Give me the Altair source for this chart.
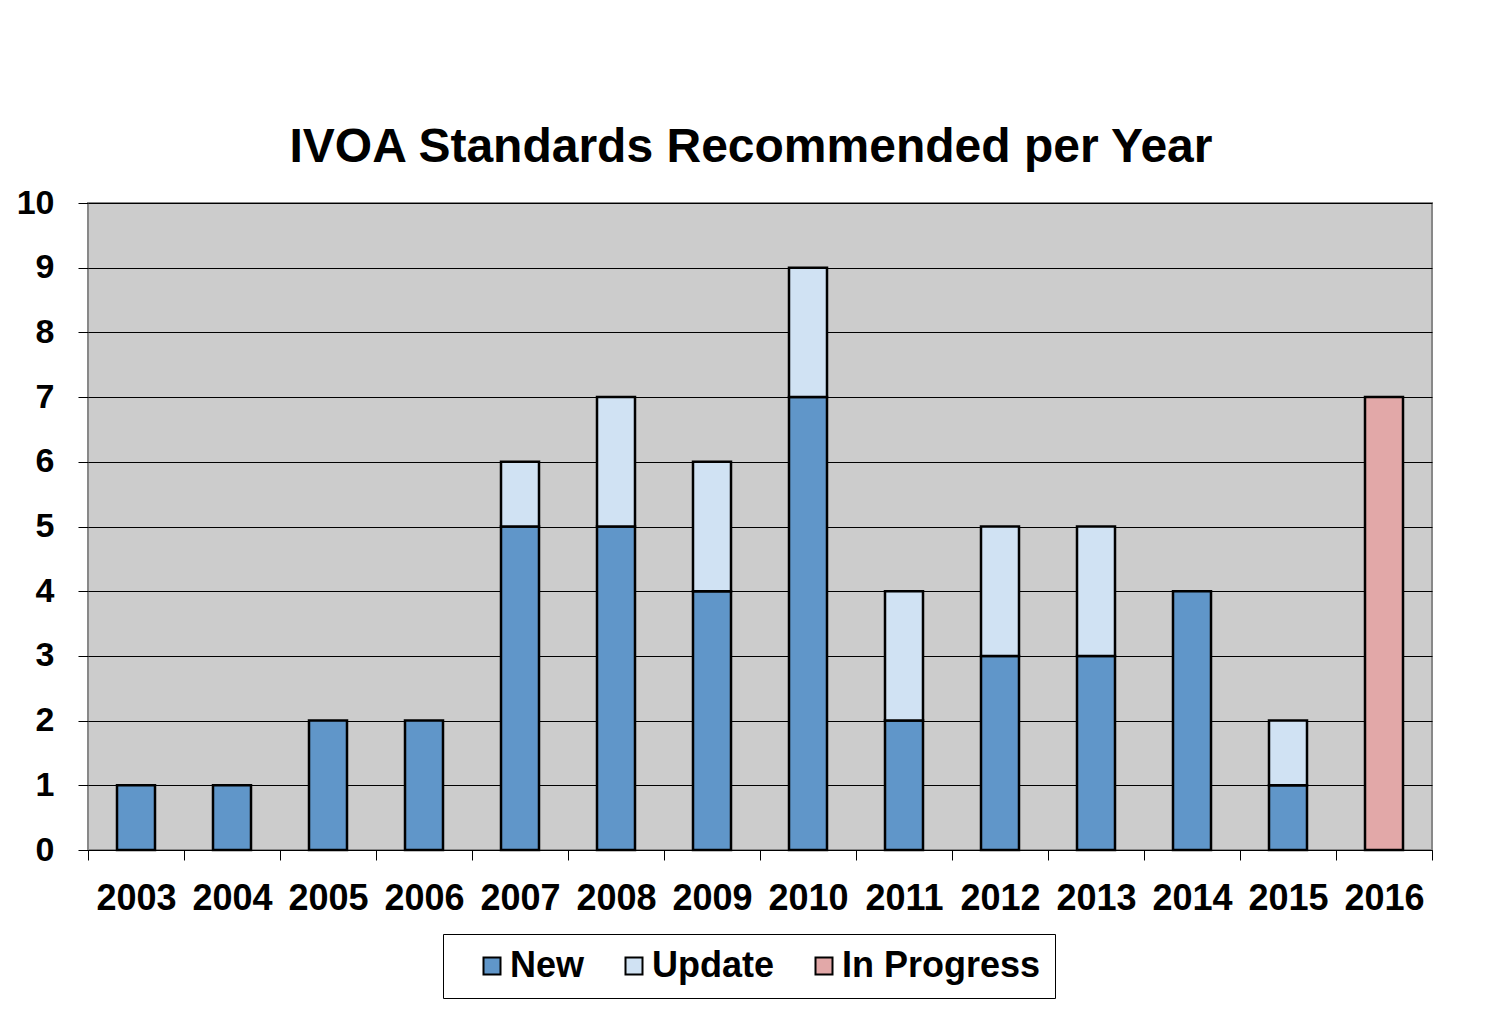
import altair as alt
import pandas as pd

years = [str(y) for y in range(2003, 2017)]
new = [1, 1, 2, 2, 5, 5, 4, 7, 2, 3, 3, 4, 1, 0]
update = [0, 0, 0, 0, 1, 2, 2, 2, 2, 2, 2, 0, 1, 0]
in_progress = [0, 0, 0, 0, 0, 0, 0, 0, 0, 0, 0, 0, 0, 7]
categories = ["New", "Update", "In Progress"]
colors = ["#6096C9", "#D0E2F3", "#E2A8A8"]

rows = []
for i, y in enumerate(years):
    for k, series in enumerate([new, update, in_progress]):
        if series[i] > 0:
            rows.append({"year": y, "category": categories[k], "value": series[i], "order": k})
df = pd.DataFrame(rows)

FONT = "Liberation Sans"

chart = alt.Chart(df).mark_bar(stroke="black", strokeWidth=2.5, width=38).encode(
    x=alt.X("year:O", title=None, sort=years,
            scale=alt.Scale(paddingInner=0, paddingOuter=0),
            axis=alt.Axis(labelAngle=0, tickBand="extent", tickSize=10, tickColor="black",
                          tickWidth=1, domainColor="black", domainWidth=1,
                          labelFont=FONT, labelFontSize=36, labelFontWeight="bold",
                          labelColor="black", labelPadding=21)),
    y=alt.Y("value:Q", title=None, stack="zero",
            scale=alt.Scale(domain=[0, 10]),
            axis=alt.Axis(values=list(range(11)), tickSize=10, tickColor="black", tickWidth=1,
                          domain=False, grid=True, gridColor="black", gridWidth=1,
                          labelFont=FONT, labelFontSize=34, labelFontWeight="bold",
                          labelColor="black", labelPadding=24)),
    color=alt.Color("category:N", scale=alt.Scale(domain=categories, range=colors),
                    legend=alt.Legend(orient="none", legendX=355, legendY=731,
                                      direction="horizontal", title=None,
                                      labelFont=FONT, labelFontSize=36, labelFontWeight="bold",
                                      labelColor="black", labelLimit=500,
                                      symbolType="square", symbolSize=289,
                                      symbolStrokeColor="black", symbolStrokeWidth=2,
                                      symbolOffset=17,
                                      strokeColor="black", fillColor="white",
                                      padding=14, columnPadding=14, labelOffset=0)),
    order=alt.Order("order:Q"),
).properties(
    width=1344, height=647,
    title=alt.Title("IVOA Standards Recommended per Year", font=FONT, fontSize=48,
                    fontWeight="bold", color="black", anchor="middle", offset=14, dx=-9),
    autosize=alt.AutoSizeParams(type="none"),
    padding={"left": 80, "top": 195, "right": 50, "bottom": 150},
    background="white",
).configure_view(
    fill="#CCCCCC", stroke="#888888", strokeWidth=2
)

chart.save("out.html", embed_options={"renderer": "svg", "actions": False})
